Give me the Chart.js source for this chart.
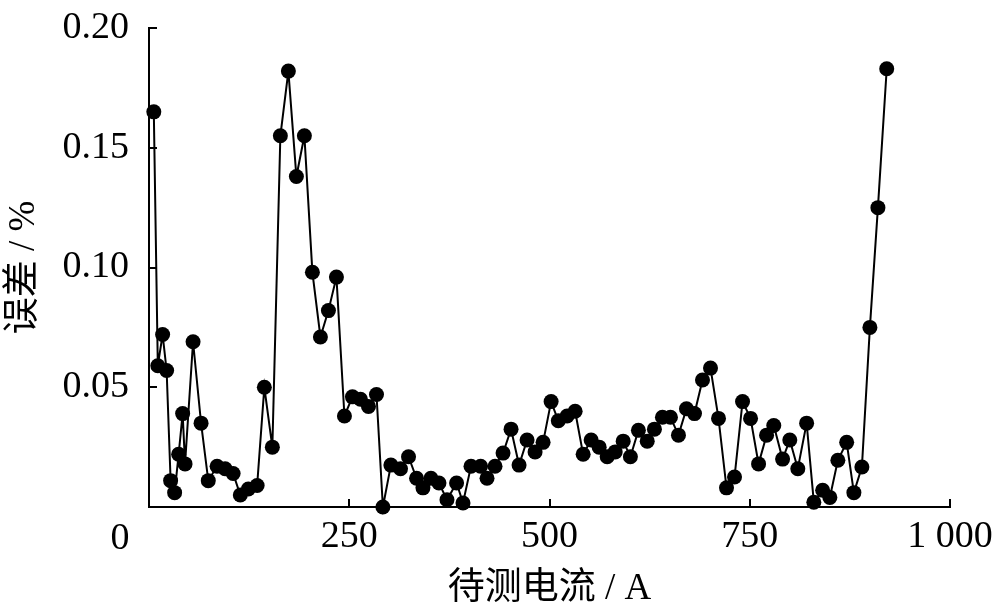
<!DOCTYPE html>
<html>
<head>
<meta charset="utf-8">
<script src="https://cdn.jsdelivr.net/npm/chart.js@4/dist/chart.umd.min.js"></script>
<style>
  html, body { margin: 0; padding: 0; background: #fff; }
  #wrap { width: 1000px; height: 615px; }
</style>
</head>
<body>
<div id="wrap"><canvas id="errChart"></canvas></div>
<script>
// measured current (A) and error (%)
const currents = [6, 11, 17, 22, 27, 32, 37, 42, 45, 55,
  65, 74, 85, 95, 105, 114, 124, 135, 144, 154,
  164, 174, 184, 194, 204, 214, 224, 234, 244, 254,
  264, 274, 284, 292, 302, 314, 324, 334, 342, 352,
  362, 372, 384, 392, 402, 414, 422, 432, 442, 452,
  462, 472, 482, 492, 502, 511, 522, 532, 542, 552,
  562, 572, 582, 592, 601, 611, 622, 631, 641, 651,
  661, 671, 681, 691, 701, 711, 721, 731, 741, 751,
  761, 771, 780, 791, 800, 810, 821, 830, 841, 850,
  860, 871, 880, 890, 900, 910, 921];
const errors = [0.165, 0.059, 0.072, 0.057, 0.011, 0.006, 0.022, 0.039, 0.018, 0.069,
  0.035, 0.011, 0.017, 0.016, 0.014, 0.005, 0.0075, 0.009, 0.050, 0.025,
  0.155, 0.182, 0.138, 0.155, 0.098, 0.071, 0.082, 0.096, 0.038, 0.046,
  0.045, 0.042, 0.047, 0.000, 0.0175, 0.016, 0.021, 0.012, 0.008, 0.012,
  0.010, 0.003, 0.010, 0.0017, 0.017, 0.017, 0.012, 0.017, 0.0225, 0.0325,
  0.0175, 0.028, 0.023, 0.027, 0.044, 0.036, 0.038, 0.040, 0.022, 0.028,
  0.025, 0.021, 0.023, 0.0275, 0.021, 0.032, 0.0275, 0.0325, 0.0375, 0.0375,
  0.030, 0.041, 0.039, 0.053, 0.058, 0.037, 0.008, 0.0125, 0.044, 0.037,
  0.018, 0.030, 0.034, 0.020, 0.028, 0.016, 0.035, 0.002, 0.007, 0.004,
  0.0195, 0.027, 0.006, 0.0167, 0.075, 0.125, 0.183];
const xTicks = [0, 250, 500, 750, 1000];
const yTicks = [0.05, 0.10, 0.15, 0.20];

const serif = "'Liberation Serif', 'Noto Sans CJK SC', serif";

// the "0" under the origin sits left of the axis in the original
const originLabel = {
  id: 'originLabel',
  afterDraw(chart) {
    const ctx = chart.ctx;
    const xs = chart.scales.x;
    ctx.save();
    ctx.font = '38px ' + serif;
    ctx.fillStyle = '#000';
    ctx.textAlign = 'center';
    ctx.textBaseline = 'middle';
    ctx.fillText('0', xs.getPixelForValue(0) - 29, 539);
    ctx.restore();
  }
};

new Chart(document.getElementById('errChart'), {
  type: 'line',
  data: {
    datasets: [{
      data: currents.map((c, i) => ({ x: c, y: errors[i] })),
      borderColor: '#000',
      backgroundColor: '#000',
      borderWidth: 2,
      pointRadius: 7.5,
      pointHoverRadius: 7.5,
      pointBorderWidth: 0,
      tension: 0,
      clip: false
    }]
  },
  options: {
    responsive: true,
    maintainAspectRatio: false,
    animation: false,
    layout: { padding: { top: 28, right: 50, left: 0, bottom: 0 } },
    plugins: { legend: { display: false }, tooltip: { enabled: false } },
    scales: {
      x: {
        type: 'linear',
        min: 0,
        max: 1000,
        afterBuildTicks: s => { s.ticks = xTicks.map(v => ({ value: v })); },
        afterFit: s => { s.height = 108; s.paddingLeft = 0; s.paddingRight = 0; },
        ticks: {
          color: '#000',
          font: { family: serif, size: 38 },
          padding: 15,
          maxRotation: 0,
          callback: v => v === 0 ? '' : (v === 1000 ? '1 000' : String(v))
        },
        grid: { drawOnChartArea: false, color: '#000', lineWidth: 2, tickLength: -8 },
        border: { color: '#000', width: 2 },
        title: {
          display: true,
          text: '待测电流 / A',
          color: '#000',
          font: { family: serif, size: 37 },
          padding: { top: 0, bottom: 4 }
        }
      },
      y: {
        min: 0,
        max: 0.2,
        afterBuildTicks: s => { s.ticks = [0].concat(yTicks).map(v => ({ value: v })); },
        afterFit: s => { s.width = 149; s.paddingTop = 0; s.paddingBottom = 0; },
        ticks: {
          color: '#000',
          font: { family: serif, size: 38 },
          padding: 28,
          callback: v => v === 0 ? '' : v.toFixed(2)
        },
        grid: { drawOnChartArea: false, color: '#000', lineWidth: 2, tickLength: -8 },
        border: { color: '#000', width: 2 },
        title: {
          display: true,
          text: '误差 / %',
          color: '#000',
          font: { family: serif, size: 37 },
          padding: { top: 2, bottom: 0 }
        }
      }
    }
  },
  plugins: [originLabel]
});
</script>
</body>
</html>
